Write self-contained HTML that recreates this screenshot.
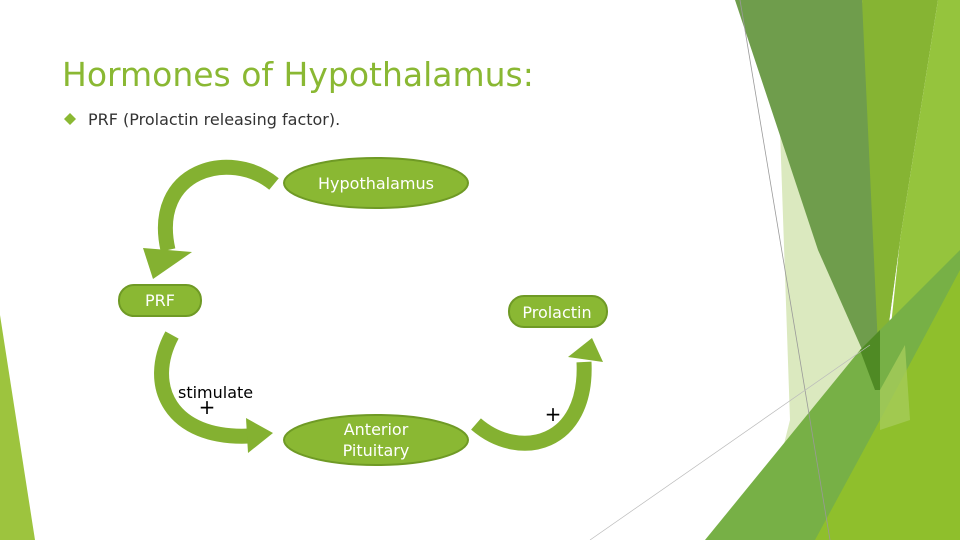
<!DOCTYPE html>
<html><head><meta charset="utf-8"><style>
body{margin:0;width:960px;height:540px;overflow:hidden;background:#fff;font-family:"DejaVu Sans","Liberation Sans",sans-serif}
svg{position:absolute;left:0;top:0}
</style></head><body>
<svg width="960" height="540" viewBox="0 0 960 540">
<!-- decorative right side -->
<polygon points="0,315 35,540 0,540" fill="#9dc43e"/>
<polygon points="780,130 860,330 900,540 760,540 790,420" fill="#dbe9bf"/>
<polygon points="735,0 862,0 900,240 880,390 818,250" fill="#6f9d4c"/>
<polygon points="862,0 938,0 900,240 880,390" fill="#86b433"/>
<polygon points="938,0 960,0 960,540 870,540 880,430 900,240" fill="#95c43d"/>
<polygon points="705,540 860,350 960,250 960,540" fill="#77b046"/>
<polygon points="860,350 880,330 880,390 875,390" fill="#4f8a24"/>
<polygon points="815,540 880,420 960,270 960,540" fill="#8fbf2c"/>
<polygon points="880,390 905,345 910,420 880,430" fill="#a5cc5a" opacity="0.8"/>
<line x1="740" y1="0" x2="830" y2="540" stroke="#999" stroke-width="0.8"/>
<line x1="590" y1="540" x2="870" y2="345" stroke="#bbb" stroke-width="0.7"/>

<!-- title -->
<text x="62" y="86" font-size="33" fill="#8ab833" font-family="DejaVu Sans,Liberation Sans,sans-serif">Hormones of Hypothalamus:</text>
<polygon points="70,113 76,119 70,125 64,119" fill="#8ab833"/>
<text x="88" y="125" font-size="16" fill="#333">PRF (Prolactin releasing factor).</text>

<!-- arrows -->
<g fill="none" stroke="#84b131" stroke-width="15" stroke-linecap="butt">
<path d="M274,184 C230,148 150,170 168,250"/>
<path d="M172,335 C145,385 170,440 250,436"/>
<path d="M476,424 C520,462 588,445 584,362"/>
</g>
<polygon points="153,279 143,248 192,252" fill="#84b131"/>
<polygon points="273,433 246,418 248,453" fill="#84b131"/>
<polygon points="592,338 568,357 603,362" fill="#84b131"/>

<!-- nodes -->
<g fill="#8ab833" stroke="#6f9a25" stroke-width="2">
<ellipse cx="376" cy="183" rx="92" ry="25"/>
<ellipse cx="376" cy="440" rx="92" ry="25"/>
<rect x="119" y="285" width="82" height="31" rx="15"/>
<rect x="509" y="296" width="98" height="31" rx="15"/>
</g>
<g fill="#fff" font-size="16" text-anchor="middle">
<text x="376" y="189">Hypothalamus</text>
<text x="376" y="435">Anterior</text>
<text x="376" y="456">Pituitary</text>
<text x="160" y="306">PRF</text>
<text x="557" y="318">Prolactin</text>
</g>
<text x="178" y="398" font-size="16" fill="#000">stimulate</text>
<text x="207" y="414" font-size="20" fill="#000" text-anchor="middle">+</text>
<text x="553" y="421" font-size="20" fill="#000" text-anchor="middle">+</text>
</svg>
</body></html>
